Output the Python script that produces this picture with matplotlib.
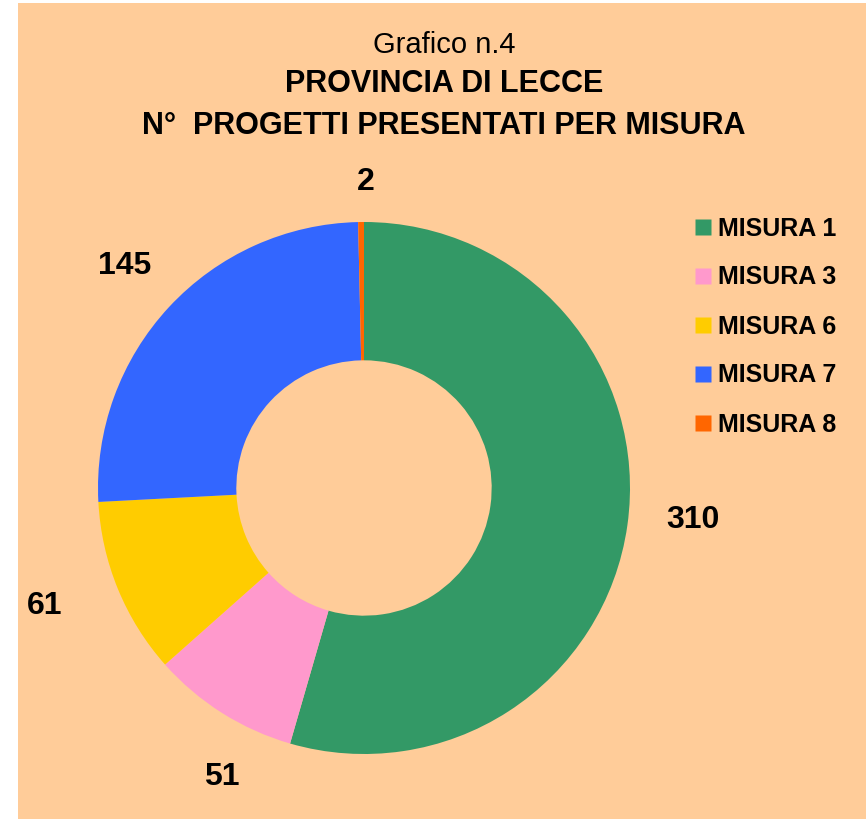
import matplotlib
matplotlib.use("Agg")
import matplotlib.pyplot as plt
from matplotlib.patches import Rectangle
from matplotlib.lines import Line2D
import matplotlib.transforms as mtransforms
import numpy as np

# data
misure = ["MISURA 1", "MISURA 3", "MISURA 6", "MISURA 7", "MISURA 8"]
progetti = [310, 51, 61, 145, 2]
colori = ["#339966", "#FF99CC", "#FFCC00", "#3366FF", "#FF6600"]

plt.rcParams['font.family'] = ['Liberation Sans', 'DejaVu Sans']

BG = "#FFCC99"
W, H = 866, 819
fig = plt.figure(figsize=(W / 100, H / 100), dpi=100, facecolor="white")
fig.patches.append(Rectangle((18 / W, 0), 1 - 18 / W, 1 - 3 / H,
                             transform=fig.transFigure, facecolor=BG,
                             edgecolor="none", zorder=-10))

# pie axes: centre (364, 488), radius 266 px
R = 266
cx, cy = 364, 488
ax = fig.add_axes([(cx - R) / W, (H - cy - R) / H, 2 * R / W, 2 * R / H])

wedges, _ = ax.pie(progetti, colors=colori, startangle=90, counterclock=False,
                   radius=1, wedgeprops=dict(width=0.52, linewidth=0),
                   normalize=True)
ax.set_xlim(-1, 1)
ax.set_ylim(-1, 1)
ax.set_aspect("equal")
ax.axis("off")

# label placement: distance (x radius) and angle nudge (deg) per slice
dist = [1.24, 1.20, 1.275, 1.235, 1.16]
nudge = [3.0, 5.9, -2.5, -0.4, -0.9]
down = mtransforms.offset_copy(ax.transData, fig=fig, x=0, y=-3, units="dots")
for w, v, d, dn in zip(wedges, progetti, dist, nudge):
    ang = np.deg2rad((w.theta1 + w.theta2) / 2 + dn)
    ax.text(d * np.cos(ang), d * np.sin(ang), str(v), ha="center", va="center",
            fontsize=23, fontweight="bold", clip_on=False, transform=down)

# titles
fig.text(444 / W, 1 - 45 / H, "Grafico n.4", ha="center", va="center", fontsize=21)
fig.text(444 / W, 1 - 84 / H, "PROVINCIA DI LECCE", ha="center", va="center",
         fontsize=22, fontweight="bold")
fig.text(444 / W, 1 - 126 / H, "N°  PROGETTI PRESENTATI PER MISURA", ha="center",
         va="center", fontsize=22, fontweight="bold")

handles = [Line2D([], [], marker="s", linestyle="none", markersize=12,
                  markerfacecolor=c, markeredgecolor="none") for c in colori]
leg = fig.legend(handles, misure, loc="upper left",
                 bbox_to_anchor=(683 / W, 1 - 204 / H), frameon=False,
                 prop=dict(size=18, weight="bold"), handlelength=0.6,
                 handletextpad=0.3, labelspacing=1.0, borderpad=0)

fig.savefig("out.png", dpi=100, facecolor="white")
